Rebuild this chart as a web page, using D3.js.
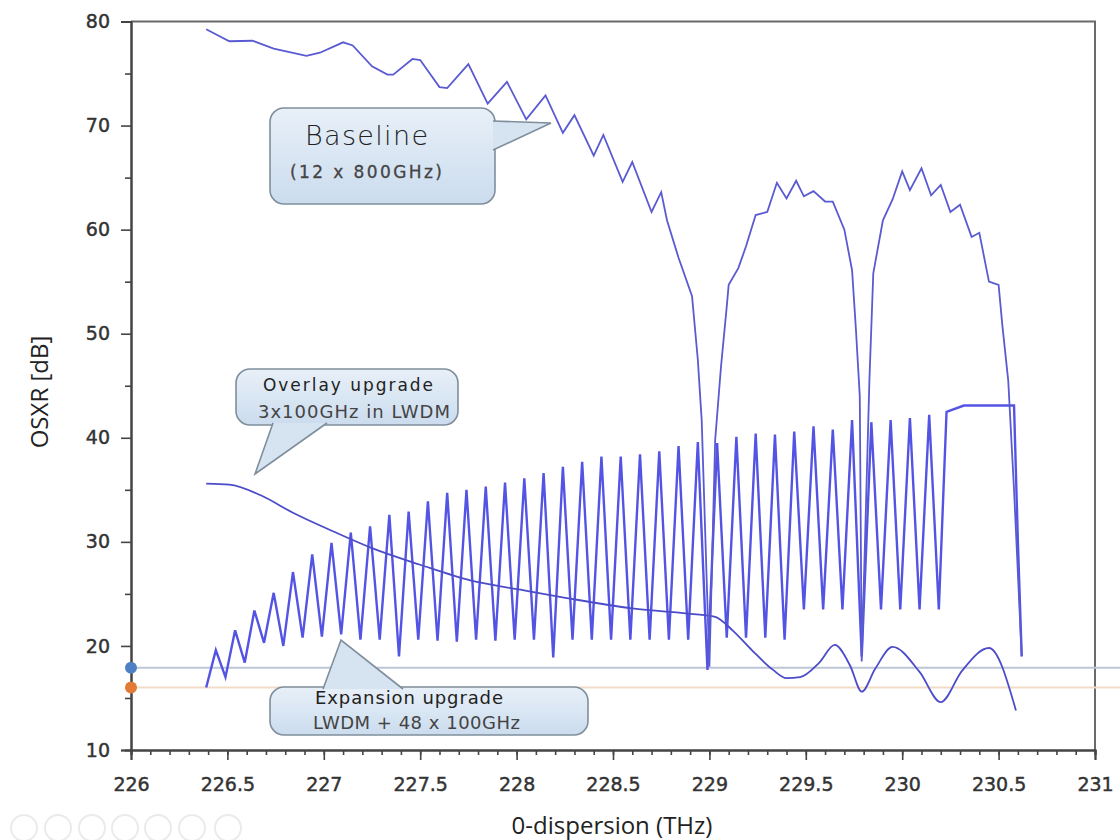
<!DOCTYPE html>
<html>
<script src="https://d3js.org/d3.v7.min.js"></script>
<body style="margin:0;background:white">
<div id="chart"></div>
<script>

// baseline 12 x 800GHz
var baseFreq = [226.39, 226.51, 226.63, 226.74, 226.91, 226.98, 227.10, 227.15, 227.25, 227.33, 227.36, 227.46, 227.50, 227.60, 227.64, 227.75, 227.85, 227.95, 228.05, 228.15, 228.24, 228.30, 228.40, 228.45, 228.55, 228.60, 228.70, 228.75, 228.78, 228.84, 228.91, 228.94, 228.96, 229.00, 229.03, 229.06, 229.09, 229.10, 229.15, 229.19, 229.24, 229.30, 229.35, 229.40, 229.45, 229.49, 229.54, 229.60, 229.64, 229.70, 229.74, 229.76, 229.78, 229.79, 229.83, 229.85, 229.90, 229.95, 230.00, 230.04, 230.10, 230.15, 230.20, 230.25, 230.30, 230.36, 230.40, 230.45, 230.50, 230.52, 230.55, 230.58, 230.62];
var baseOsxr = [79.25, 78.1, 78.15, 77.4, 76.7, 77.0, 78.0, 77.7, 75.7, 74.9, 74.9, 76.4, 76.3, 73.7, 73.6, 75.9, 72.1, 74.2, 70.6, 72.9, 69.3, 71.0, 67.1, 69.1, 64.6, 66.5, 61.7, 63.6, 60.9, 57.3, 53.6, 47.5, 41.7, 18.0, 39.8, 46.8, 52.6, 54.7, 56.3, 58.4, 61.4, 61.7, 64.5, 63.0, 64.7, 63.2, 63.7, 62.7, 62.7, 60.0, 56.1, 50.4, 44.0, 18.5, 45.6, 55.8, 60.9, 62.9, 65.6, 63.8, 65.9, 63.3, 64.3, 61.7, 62.4, 59.3, 59.7, 55.0, 54.7, 50.7, 45.5, 35.0, 19.0];

// overlay upgrade 3x100GHz in LWDM
var overFreq = [226.39, 226.51, 226.67, 226.84, 227.05, 227.25, 227.50, 227.76, 228.02, 228.26, 228.60, 228.95, 229.03, 229.12, 229.22, 229.33, 229.40, 229.47, 229.57, 229.65, 229.73, 229.79, 229.86, 229.95, 230.09, 230.20, 230.31, 230.45, 230.59];
var overOsxr = [35.6, 35.5, 34.5, 32.8, 31.0, 29.4, 27.8, 26.3, 25.4, 24.6, 23.6, 23.0, 22.8, 21.5, 19.6, 17.7, 16.9, 17.0, 18.4, 20.1, 18.1, 15.6, 17.8, 19.9, 17.5, 14.6, 17.6, 19.8, 13.8];

// expansion upgrade LWDM + 48 x 100GHz (peaks and troughs)
var expFreq = [226.39, 226.44, 226.49, 226.54, 226.59, 226.64, 226.69, 226.74, 226.79, 226.84, 226.89, 226.94, 226.99, 227.04, 227.09, 227.14, 227.19, 227.24, 227.29, 227.34, 227.39, 227.44, 227.49, 227.54, 227.59, 227.64, 227.69, 227.74, 227.79, 227.84, 227.89, 227.94, 227.99, 228.04, 228.09, 228.14, 228.19, 228.24, 228.29, 228.34, 228.39, 228.44, 228.49, 228.54, 228.59, 228.64, 228.69, 228.74, 228.79, 228.84, 228.89, 228.94, 228.99, 229.04, 229.09, 229.14, 229.19, 229.24, 229.29, 229.34, 229.39, 229.44, 229.49, 229.54, 229.59, 229.64, 229.69, 229.74, 229.79, 229.84, 229.89, 229.94, 229.99, 230.04, 230.09, 230.14, 230.19, 230.23, 230.32, 230.58, 230.60, 230.62];
var expOsxr = [16.0, 19.6, 17.0, 21.5, 18.4, 23.4, 20.3, 25.1, 20.0, 27.1, 20.8, 28.8, 20.9, 29.9, 21.1, 30.9, 20.6, 31.5, 20.6, 32.6, 19.0, 32.9, 20.6, 33.9, 20.5, 34.7, 20.4, 35.0, 20.6, 35.3, 20.5, 35.7, 20.6, 36.1, 20.6, 36.6, 18.9, 37.2, 20.6, 37.7, 20.6, 38.2, 20.6, 38.2, 20.6, 38.4, 20.6, 38.7, 20.6, 39.2, 20.6, 39.6, 17.7, 39.5, 20.8, 40.1, 20.8, 40.4, 20.8, 40.3, 20.6, 40.6, 23.5, 41.1, 23.5, 40.8, 23.5, 41.7, 19.0, 41.5, 23.5, 41.7, 23.5, 41.9, 23.5, 42.2, 23.5, 42.5, 43.1, 43.1, 30.0, 19.0];

// threshold lines
var thresholds = [17.9, 16.0];
var thresholdColors = ["#bcc6d6", "#f1dcc8"];
var dotColors = ["#4f80c4", "#e27b36"];

var xTicks = [226, 226.5, 227, 227.5, 228, 228.5, 229, 229.5, 230, 230.5, 231];
var yTicks = [10, 20, 30, 40, 50, 60, 70, 80];

var width = 1120, height = 840;
var svg = d3.select("#chart").append("svg")
    .attr("width", width).attr("height", height)
    .style("display", "block");

var x = d3.scaleLinear().domain([226, 231]).range([131, 1095]);
var y = d3.scaleLinear().domain([10, 80]).range([750, 21.5]);

// gradient for the callouts
var defs = svg.append("defs");
var grad = defs.append("linearGradient").attr("id", "boxgrad")
    .attr("x1", "0%").attr("y1", "0%").attr("x2", "0%").attr("y2", "100%");
grad.append("stop").attr("offset", "0%").attr("stop-color", "#e8f0f8");
grad.append("stop").attr("offset", "100%").attr("stop-color", "#cbdcee");

// frame top/right
svg.append("path")
    .attr("d", "M" + x(226) + "," + y(80) + "H" + x(231) + "V" + y(10))
    .attr("fill", "none").attr("stroke", "#6a6a6a").attr("stroke-width", 2);

// threshold lines
thresholds.forEach(function(t, i) {
    svg.append("line")
        .attr("x1", x(226)).attr("x2", width)
        .attr("y1", y(t)).attr("y2", y(t))
        .attr("stroke", thresholdColors[i]).attr("stroke-width", 2);
});

// axes
var xAxis = svg.append("g").attr("transform", "translate(0," + y(10) + ")")
    .call(d3.axisBottom(x).tickValues(d3.range(226, 231.001, 0.1)).tickSize(5).tickFormat(""));
xAxis.append("g").call(d3.axisBottom(x).tickValues(xTicks).tickSize(10)
    .tickFormat(function(d) { return d; }));
var yAxis = svg.append("g").attr("transform", "translate(" + x(226) + ",0)")
    .call(d3.axisLeft(y).tickValues(d3.range(15, 80, 10)).tickSize(6).tickFormat(""));
yAxis.append("g").call(d3.axisLeft(y).tickValues(yTicks).tickSize(10));

svg.selectAll(".domain").attr("stroke", "#444").attr("stroke-width", 2);
svg.selectAll(".tick line").attr("stroke", "#444").attr("stroke-width", 1.6);
svg.selectAll(".tick text")
    .style("font-family", "DejaVu Sans").style("font-size", "19px")
    .attr("fill", "#333").attr("stroke", "#333").attr("stroke-width", 0.45);
xAxis.selectAll(".tick text").attr("y", 28).attr("dy", "0.71em");
yAxis.selectAll(".tick text").attr("x", -21);

thresholds.forEach(function(t, i) {
    svg.append("circle").attr("cx", x(226)).attr("cy", y(t)).attr("r", 6)
        .attr("fill", dotColors[i]);
});

// series
var line = d3.line()
    .x(function(d) { return x(d[0]); })
    .y(function(d) { return y(d[1]); });

function pairs(a, b) { return a.map(function(v, i) { return [v, b[i]]; }); }

svg.append("path").datum(pairs(expFreq, expOsxr))
    .attr("d", line).attr("fill", "none")
    .attr("stroke", "#5454e4").attr("stroke-width", 2.4);
svg.append("path").datum(pairs(overFreq, overOsxr))
    .attr("d", line.curve(d3.curveMonotoneX)).attr("fill", "none")
    .attr("stroke", "#4c4cc8").attr("stroke-width", 1.8);
svg.append("path").datum(pairs(baseFreq, baseOsxr))
    .attr("d", line.curve(d3.curveLinear)).attr("fill", "none")
    .attr("stroke", "#5a5ad2").attr("stroke-width", 1.8);

// callouts
function callout(bx, by, bw, bh, tail) {
    var g = svg.append("g");
    g.append("rect").attr("x", bx).attr("y", by).attr("width", bw).attr("height", bh)
        .attr("rx", 14).attr("fill", "url(#boxgrad)").attr("stroke", "#7f8e9c").attr("stroke-width", 1.6);
    g.append("path")
        .attr("d", "M" + tail[0] + "L" + tail[1] + "L" + tail[2])
        .attr("fill", "#d6e4f2").attr("stroke", "#7f8e9c").attr("stroke-width", 1.6);
    return g;
}

var c1 = callout(270, 108, 225, 96, [[493, 121], [551, 123], [493, 150]]);
c1.append("text").attr("x", 305).attr("y", 145).text("Baseline")
    .attr("textLength", 123).style("font-family", "DejaVu Sans").style("font-size", "27px")
    .style("font-weight", "300").attr("fill", "#222");
c1.append("text").attr("x", 290).attr("y", 178).text("(12 x 800GHz)")
    .attr("textLength", 152).style("font-family", "DejaVu Sans").style("font-size", "17px")
    .attr("fill", "#444").attr("stroke", "#444").attr("stroke-width", 0.3);

var c2 = callout(236, 369, 222, 56, [[273, 423], [255, 474], [327, 423]]);
c2.append("text").attr("x", 263).attr("y", 391).text("Overlay upgrade")
    .attr("textLength", 170).style("font-family", "DejaVu Sans").style("font-size", "17px").attr("fill", "#222");
c2.append("text").attr("x", 258).attr("y", 418).text("3x100GHz in LWDM")
    .attr("textLength", 192).style("font-family", "DejaVu Sans").style("font-size", "18px").attr("fill", "#444");

var c3 = callout(270, 687, 318, 48, [[323, 689], [341, 640], [403, 689]]);
c3.append("text").attr("x", 315).attr("y", 704).text("Expansion upgrade")
    .attr("textLength", 188).style("font-family", "DejaVu Sans").style("font-size", "18px").attr("fill", "#222");
c3.append("text").attr("x", 313).attr("y", 729).text("LWDM + 48 x 100GHz")
    .attr("textLength", 207).style("font-family", "DejaVu Sans").style("font-size", "18px").attr("fill", "#444");

// axis titles
svg.append("text").attr("transform", "translate(48,392) rotate(-90)")
    .attr("text-anchor", "middle").text("OSXR [dB]")
    .style("font-family", "Open Sans").style("font-size", "24px").attr("fill", "#222");
svg.append("text").attr("x", 612).attr("y", 834)
    .attr("text-anchor", "middle").text("0-dispersion (THz)")
    .style("font-family", "Open Sans").style("font-size", "24px").attr("fill", "#222");

// faint toolbar icons bottom-left
[24, 58, 92, 125, 158, 192, 228].forEach(function(cx) {
    svg.append("circle").attr("cx", cx).attr("cy", 828).attr("r", 13)
        .attr("fill", "none").attr("stroke", "#ebebeb").attr("stroke-width", 2);
});

</script>
</body>
</html>
